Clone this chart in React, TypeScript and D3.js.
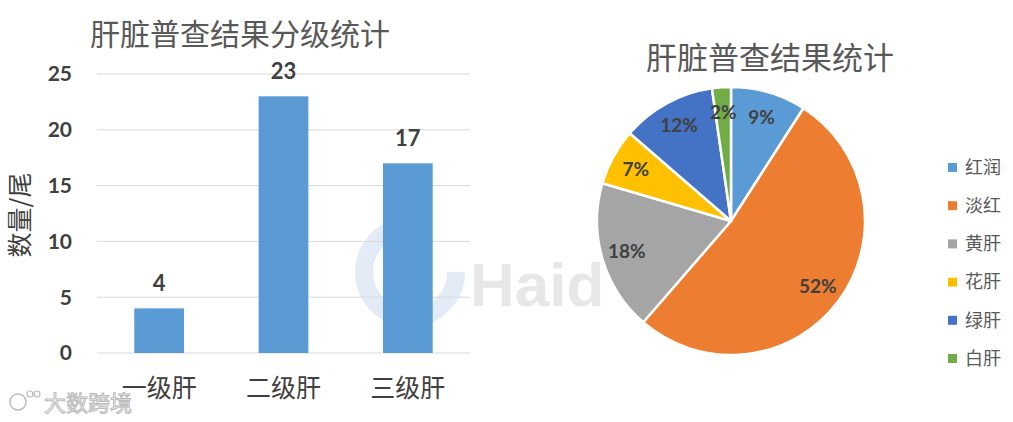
import React from "react";
import * as d3 from "d3";

const barCategories = ["一级肝", "二级肝", "三级肝"];
const barValues = [4, 23, 17];
const yTicks = [0, 5, 10, 15, 20, 25];

const pieCategories = ["红润", "淡红", "黄肝", "花肝", "绿肝", "白肝"];
const pieValues = [4, 23, 8, 3, 5, 1];
const pieLabels = ["9%", "52%", "18%", "7%", "12%", "2%"];
const pieColors = ["#5B9BD5", "#ED7D31", "#A5A5A5", "#FFC000", "#4472C4", "#70AD47"];

const CJK = "'Noto Sans CJK SC', 'Noto Sans', sans-serif";
const NUM = "Lato, 'Open Sans', 'Noto Sans', sans-serif";

export default function App() {
  const W = 1013, H = 422;
  const x = d3.scaleBand<string>().domain(barCategories).range([97, 470]).paddingInner(0.6).paddingOuter(0.3);
  const y = d3.scaleLinear().domain([0, 25]).range([353, 74]);

  const cx = 731, cy = 221, r = 134;
  const pie = d3.pie<number>().sort(null).value((d) => d)(pieValues);
  const arc = d3.arc<d3.PieArcDatum<number>>().innerRadius(0).outerRadius(r);
  const labelArc = d3.arc<d3.PieArcDatum<number>>().innerRadius(r * 0.81).outerRadius(r * 0.81);

  return (
    <svg width={W} height={H} style={{ position: "absolute", left: 0, top: 0, background: "#fff" }}>
      <rect width={W} height={H} fill="#fff" />
      {/* watermark */}
      <g opacity={0.5}>
        <circle cx={410} cy={272} r={46} fill="none" stroke="#c9d9ee" strokeWidth={18} strokeDasharray="200 100" />
        <text x={470} y={306} fontFamily="'Liberation Sans', sans-serif" fontWeight="bold" fontSize={62} fill="#d0d0d0">Haid</text>
      </g>
      <text x={44} y={411} fontFamily={CJK} fontSize={22} fill="#fff" stroke="#bbb" strokeWidth={1}>大数跨境</text>
      <circle cx={18} cy={402} r={8} fill="none" stroke="#bbb" strokeWidth={1.5} />
      <circle cx={30} cy={394} r={3} fill="none" stroke="#bbb" strokeWidth={1.2} />
      <circle cx={37} cy={394} r={3} fill="none" stroke="#bbb" strokeWidth={1.2} />

      {/* Bar chart */}
      <text x={240} y={45} textAnchor="middle" fontFamily={CJK} fontSize={30} fill="#595959">肝脏普查结果分级统计</text>
      {yTicks.map((t) => (
        <g key={t}>
          <line x1={97} x2={470} y1={y(t)} y2={y(t)} stroke="#d9d9d9" strokeWidth={1} />
          <text x={72} y={y(t)} dy="0.35em" textAnchor="end" fontFamily={NUM} fontWeight="bold" fontSize={21} fill="#404040">{t}</text>
        </g>
      ))}
      {barCategories.map((c, i) => (
        <g key={c}>
          <rect x={x(c)} y={y(barValues[i])} width={x.bandwidth()} height={y(0) - y(barValues[i])} fill="#5B9BD5" />
          <text x={(x(c) as number) + x.bandwidth() / 2} y={y(barValues[i]) - 17} textAnchor="middle" fontFamily={NUM} fontWeight="bold" fontSize={22} fill="#404040">{barValues[i]}</text>
          <text x={(x(c) as number) + x.bandwidth() / 2} y={397} textAnchor="middle" fontFamily={CJK} fontSize={25} fill="#404040">{c}</text>
        </g>
      ))}
      <text transform="translate(29,215) rotate(-90)" textAnchor="middle" fontFamily={CJK} fontSize={25} fill="#404040">数量/尾</text>

      {/* Pie chart */}
      <text x={770} y={69} textAnchor="middle" fontFamily={CJK} fontSize={31} fill="#595959">肝脏普查结果统计</text>
      <g transform={`translate(${cx},${cy})`}>
        {pie.map((d, i) => (
          <path key={i} d={arc(d) as string} fill={pieColors[i]} stroke="#fff" strokeWidth={2.5} strokeLinejoin="round" />
        ))}
        {pie.map((d, i) => {
          const [lx, ly] = labelArc.centroid(d);
          return (
            <text key={i} x={lx} y={ly} dy="0.35em" textAnchor="middle" fontFamily={NUM} fontWeight="bold" fontSize={19} fill="#404040">{pieLabels[i]}</text>
          );
        })}
      </g>
      {pieCategories.map((c, i) => (
        <g key={c}>
          <rect x={948} y={163 + i * 38.2} width={9} height={9} fill={pieColors[i]} />
          <text x={965} y={167.5 + i * 38.2} dy="0.35em" fontFamily={CJK} fontSize={18} fill="#595959">{c}</text>
        </g>
      ))}
    </svg>
  );
}
